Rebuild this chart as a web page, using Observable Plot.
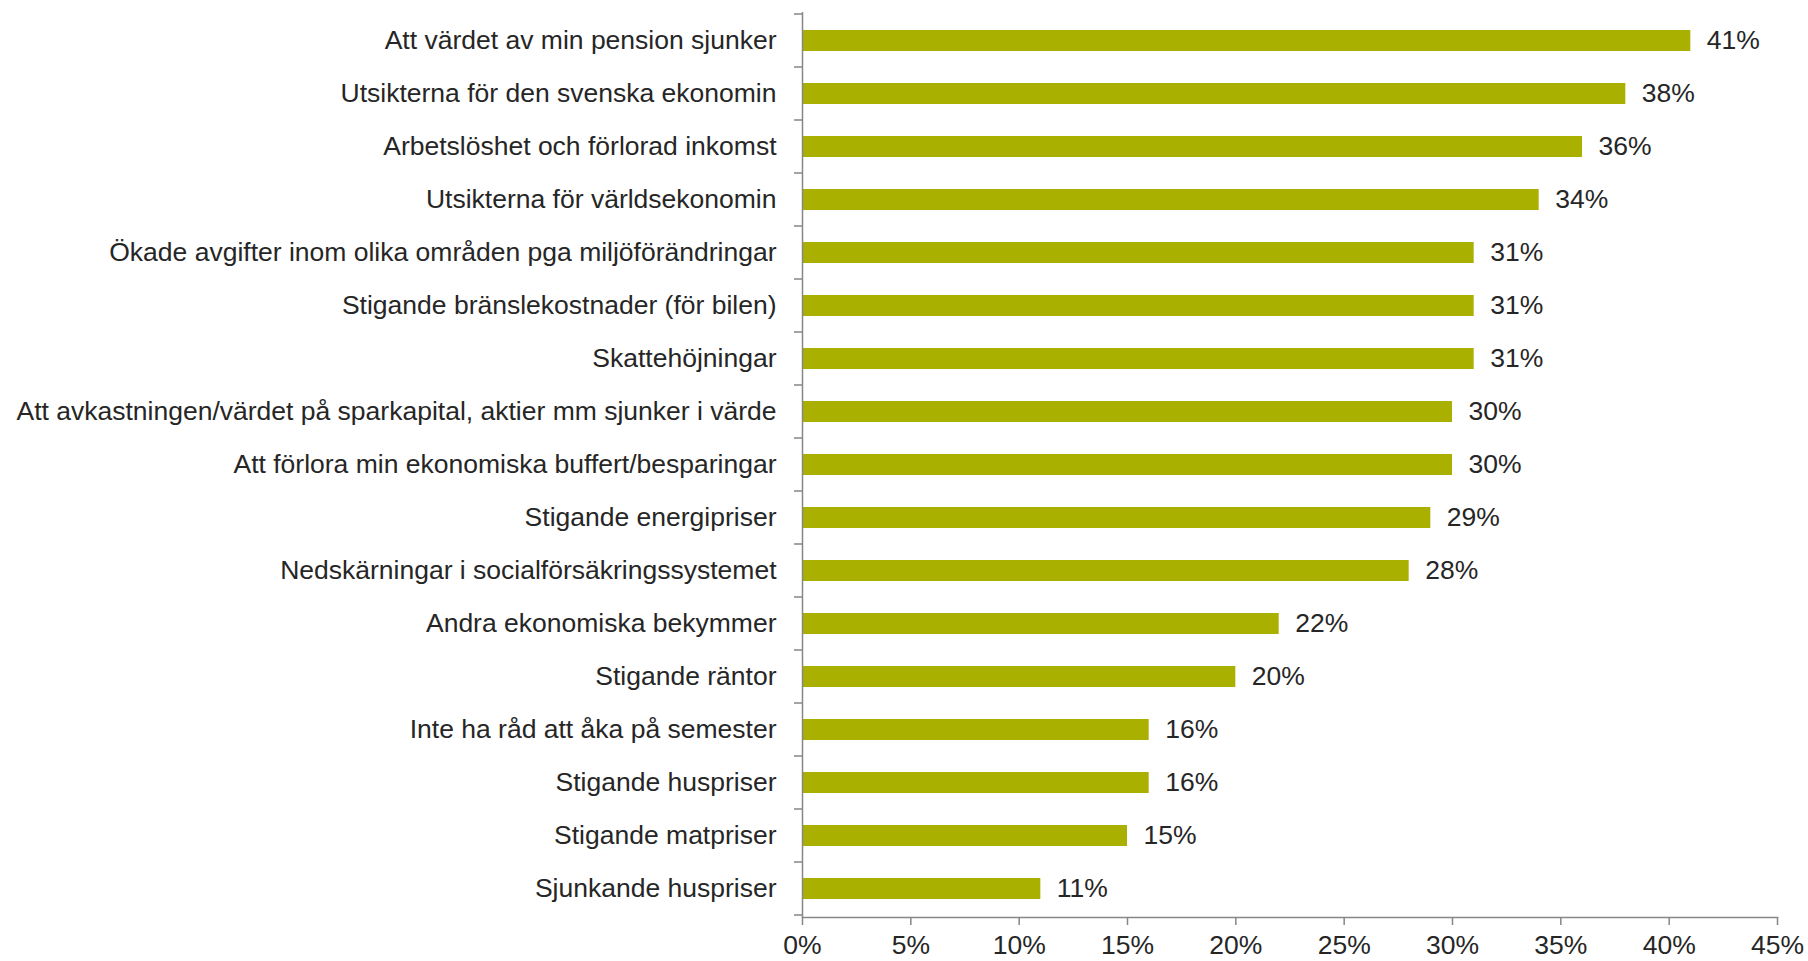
<!DOCTYPE html>
<html>
<head>
<meta charset="utf-8">
<script src="https://cdn.jsdelivr.net/npm/d3@7"></script>
<script src="https://cdn.jsdelivr.net/npm/@observablehq/plot@0.6"></script>
<style>
  html, body { margin: 0; padding: 0; background: #ffffff; }
  svg { display: block; }
</style>
</head>
<body>
<div id="chart"></div>
<script>
const categories = [
  "Att värdet av min pension sjunker",
  "Utsikterna för den svenska ekonomin",
  "Arbetslöshet och förlorad inkomst",
  "Utsikterna för världsekonomin",
  "Ökade avgifter inom olika områden pga miljöförändringar",
  "Stigande bränslekostnader (för bilen)",
  "Skattehöjningar",
  "Att avkastningen/värdet på sparkapital, aktier mm sjunker i värde",
  "Att förlora min ekonomiska buffert/besparingar",
  "Stigande energipriser",
  "Nedskärningar i socialförsäkringssystemet",
  "Andra ekonomiska bekymmer",
  "Stigande räntor",
  "Inte ha råd att åka på semester",
  "Stigande huspriser",
  "Stigande matpriser",
  "Sjunkande huspriser"
];
const values = [41, 38, 36, 34, 31, 31, 31, 30, 30, 29, 28, 22, 20, 16, 16, 15, 11];
const xTicks = [0, 5, 10, 15, 20, 25, 30, 35, 40, 45];

const data = categories.map((c, i) => ({category: c, value: values[i]}));

const textColor = "#262626";
const axisColor = "#868686";
const barColor = "#AAB000";
const fs = 26.5;

function bandBoundaryTicks(index, scales, vals, dimensions) {
  const y = scales.y, x = scales.x;
  const dom = y.domain();
  const step = y.step();
  const bw = y.bandwidth();
  const gap = (step - bw) / 2;
  const ys = dom.map(c => y(c) - gap);
  ys.push(y(dom[dom.length - 1]) + bw + gap);
  const x0 = x(0);
  const g = d3.create("svg:g");
  g.selectAll("line").data(ys).join("line")
    .attr("x1", x0 - 8).attr("x2", x0)
    .attr("y1", d => d).attr("y2", d => d)
    .attr("stroke", axisColor).attr("stroke-width", 1.5);
  return g.node();
}

const chart = Plot.plot({
  width: 1808,
  height: 961,
  marginLeft: 802,
  marginRight: 31,
  marginTop: 12,
  marginBottom: 44,
  style: {fontFamily: "'Liberation Sans', Arial, sans-serif", fontSize: fs + "px", color: textColor, background: "#ffffff"},
  x: {domain: [0, 45]},
  y: {domain: categories, paddingInner: 0.6, paddingOuter: 0.3},
  marks: [
    Plot.barX(data, {x: "value", y: "category", fill: barColor}),
    Plot.text(data, {x: "value", y: "category", text: d => d.value + "%", textAnchor: "start", dx: 16, fill: textColor, fontSize: fs}),
    Plot.ruleX([0], {stroke: axisColor, strokeWidth: 1.5}),
    Plot.frame({anchor: "bottom", stroke: axisColor, strokeWidth: 1.5}),
    bandBoundaryTicks,
    Plot.axisX({ticks: xTicks, tickFormat: d => d + "%", tickSize: 8, tickPadding: 10, stroke: axisColor, strokeOpacity: 1, strokeWidth: 1.5, fill: textColor, fontSize: fs, label: null}),
    Plot.axisY({tickSize: 0, tickPadding: 26, fill: textColor, fontSize: fs, label: null})
  ]
});
document.getElementById("chart").appendChild(chart);
</script>
</body>
</html>
